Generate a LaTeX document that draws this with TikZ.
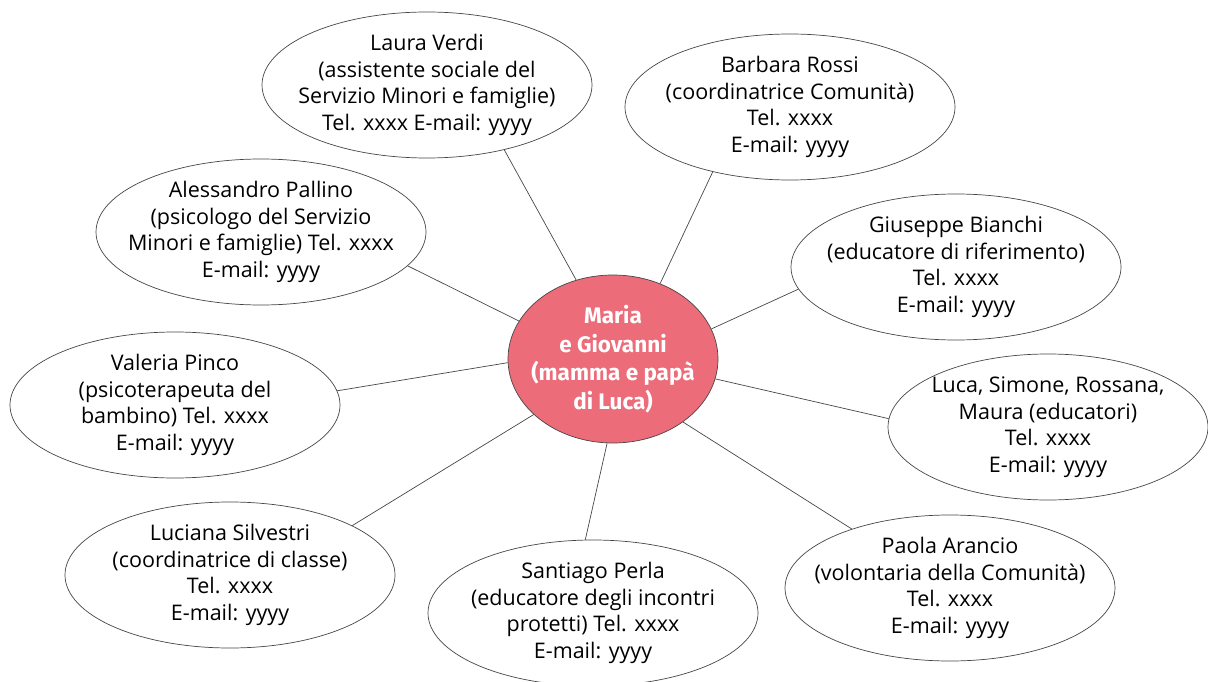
\documentclass[tikz,border=0pt]{standalone}
\usepackage{fontspec}
\setmainfont{Open Sans}
\newfontfamily\centerfont{Fira Sans}
\usetikzlibrary{shapes.geometric}
\definecolor{rosa}{RGB}{236,108,122}
\definecolor{linegray}{RGB}{70,70,70}
\tikzset{
  bub/.style={ellipse, draw=linegray, line width=0.7pt, fill=white, inner sep=0pt, minimum width=330pt, minimum height=146pt},
  hub/.style={ellipse, draw=linegray, line width=0.7pt, fill=rosa, inner sep=0pt, minimum width=210pt, minimum height=168pt},
  txt/.style={align=center, font=\fontsize{21.5}{26.5}\selectfont, text=black, inner sep=0pt},
  hubtxt/.style={align=center, font=\centerfont\bfseries\fontsize{22.5}{28.5}\selectfont, text=white, inner sep=0pt},
  conn/.style={draw=linegray, line width=0.7pt}
}
\begin{document}
\begin{tikzpicture}[x=1pt,y=-1pt]
\useasboundingbox (0,0) rectangle (1208,682);
\node[hub] (c) at (613,359) {};
\node[bub] (laura) at (427,85) {};
\node[bub] (barbara) at (790,107) {};
\node[bub] (ales) at (261,232) {};
\node[bub] (gius) at (956,267) {};
\node[bub] (val) at (175,405) {};
\node[bub, minimum width=320pt] (luca) at (1048,427) {};
\node[bub] (luci) at (230,575) {};
\node[bub] (sant) at (593,613) {};
\node[bub] (paola) at (950,588) {};
\node[hubtxt] at (c) {Maria\\e Giovanni\\(mamma e papà\\di Luca)};
\node[txt] at (laura) {Laura Verdi\\(assistente sociale del\\Servizio Minori e famiglie)\\Tel. xxxx E-mail: yyyy};
\node[txt] at (barbara) {Barbara Rossi\\(coordinatrice Comunità)\\Tel. xxxx\\E-mail: yyyy};
\node[txt] at (ales) {Alessandro Pallino\\(psicologo del Servizio\\Minori e famiglie) Tel. xxxx\\E-mail: yyyy};
\node[txt] at (gius) {Giuseppe Bianchi\\(educatore di riferimento)\\Tel. xxxx\\E-mail: yyyy};
\node[txt] at (val) {Valeria Pinco\\(psicoterapeuta del\\bambino) Tel. xxxx\\E-mail: yyyy};
\node[txt] at (luca) {Luca, Simone, Rossana,\\Maura (educatori)\\Tel. xxxx\\E-mail: yyyy};
\node[txt] at (luci) {Luciana Silvestri\\(coordinatrice di classe)\\Tel. xxxx\\E-mail: yyyy};
\node[txt] at (sant) {Santiago Perla\\(educatore degli incontri\\protetti) Tel. xxxx\\E-mail: yyyy};
\node[txt] at (paola) {Paola Arancio\\(volontaria della Comunità)\\Tel. xxxx\\E-mail: yyyy};
\draw[conn] (c.115.1) -- (laura.320.9);
\draw[conn] (c.58.9) -- (barbara.220.5);
\draw[conn] (c.158.9) -- (ales.347.7);
\draw[conn] (c.17.1) -- (gius.188.3);
\draw[conn] (c.182.7) -- (val.5.6);
\draw[conn] (c.215) -- (luci.22.7);
\draw[conn] (c.266.7) -- (sant.96.3);
\draw[conn] (c.349.8) -- (luca.177.1);
\draw[conn] (c.318.8) -- (paola.149.5);
\end{tikzpicture}
\end{document}
